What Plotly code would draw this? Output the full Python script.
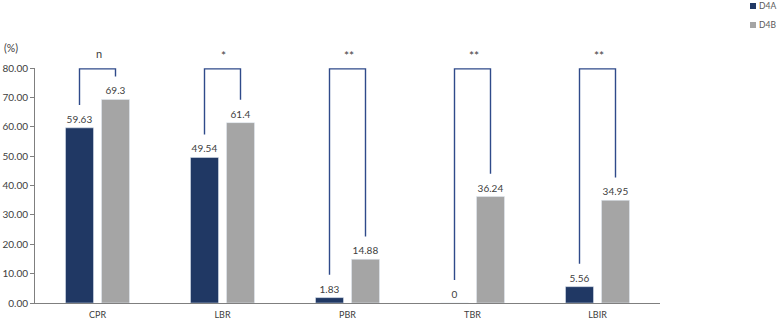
import plotly.graph_objects as go

categories = ["CPR", "LBR", "PBR", "TBR", "LBIR"]
d4a = [59.63, 49.54, 1.83, 0, 5.56]
d4b = [69.3, 61.4, 14.88, 36.24, 34.95]
d4a_labels = ["59.63", "49.54", "1.83", "0", "5.56"]
d4b_labels = ["69.3", "61.4", "14.88", "36.24", "34.95"]
sig = ["n", "*", "**", "**", "**"]
series_names = ["D4A", "D4B"]
ytick_vals = [0, 10, 20, 30, 40, 50, 60, 70, 80]
ytick_text = ["0.00", "10.00", "20.00", "30.00", "40.00", "50.00", "60.00", "70.00", "80.00"]

DARK = "#203864"
GRAY = "#A5A5A5"
LINE = "#2F4A8A"
TXT = "#404040"
FONT = "Lato, Open Sans, sans-serif"

W, H = 777, 320
L, R, T, B = 35, 117, 68, 17
PW, PH = W - L - R, H - T - B

def px_x(p):
    return (p - L) / PW

def px_y(p):
    return (H - B - p) / PH

bargap = 0.424
bargroupgap = 0.222
half = (1 - bargap) / 4  # offset of bar centre from category centre

xs = list(range(len(categories)))
fig = go.Figure()
fig.add_trace(go.Bar(x=xs, y=d4a, name=series_names[0], marker_color=DARK, showlegend=False,
                     text=d4a_labels, textposition="outside", cliponaxis=False,
                     textfont=dict(size=10, color=TXT, family=FONT)))
fig.add_trace(go.Bar(x=xs, y=d4b, name=series_names[1], marker_color=GRAY, showlegend=False,
                     text=d4b_labels, textposition="outside", cliponaxis=False,
                     textfont=dict(size=10, color=TXT, family=FONT)))

top = 79.7
gap = 7.8
for i, (a, b, s) in enumerate(zip(d4a, d4b, sig)):
    xl, xr = i - half, i + half
    fig.add_trace(go.Scatter(x=[xl, xl, xr, xr], y=[a + gap, top, top, b + gap],
                             mode="lines", line=dict(color=LINE, width=1.4),
                             showlegend=False, hoverinfo="skip", cliponaxis=False))
    fig.add_annotation(x=i, y=px_y(54 if s == "n" else 56), text=s, showarrow=False,
                       xref="x", yref="paper", yanchor="middle", xshift=1,
                       font=dict(size=11 if s == "n" else 12, color=TXT, family=FONT))

fig.add_annotation(x=px_x(2), y=px_y(48), xref="paper", yref="paper",
                   text="(%)", showarrow=False, xanchor="left", yanchor="middle",
                   font=dict(size=10.5, color=TXT, family=FONT))

# legend (squares + labels)
for k, (name, col) in enumerate(zip(series_names, [DARK, GRAY])):
    cy = 6 + 19 * k
    fig.add_shape(type="rect", xref="paper", yref="paper",
                  x0=px_x(750), x1=px_x(756), y0=px_y(cy - 3), y1=px_y(cy + 3),
                  fillcolor=col, line=dict(width=0))
    fig.add_annotation(x=px_x(757), y=px_y(cy), xref="paper", yref="paper",
                       text=name, showarrow=False, xanchor="left", yanchor="middle",
                       font=dict(size=8.5, color="#595959", family=FONT))

fig.update_layout(
    width=W, height=H,
    margin=dict(l=L, r=R, t=T, b=B, autoexpand=False),
    plot_bgcolor="white", paper_bgcolor="white",
    barmode="group", bargap=bargap, bargroupgap=bargroupgap,
    font=dict(family=FONT, size=9, color=TXT),
    showlegend=False,
    xaxis=dict(range=[-0.5, 4.5], tickvals=xs, ticktext=categories, showgrid=False,
               zeroline=False, showline=True, linecolor="#7F7F7F", linewidth=1.2,
               ticks="outside", ticklen=3, tickcolor="rgba(0,0,0,0)",
               tickfont=dict(size=9, color=TXT), automargin=False),
    yaxis=dict(range=[0, 80], tickvals=ytick_vals, ticktext=ytick_text, showgrid=False,
               zeroline=False, showline=True, linecolor="#7F7F7F", linewidth=1,
               ticks="outside", ticklen=4, tickcolor="#7F7F7F",
               tickfont=dict(size=10, color=TXT), automargin=False),
)

fig.write_html("out.html", config={"displayModeBar": False},
               post_script="document.body.style.margin='0';")
